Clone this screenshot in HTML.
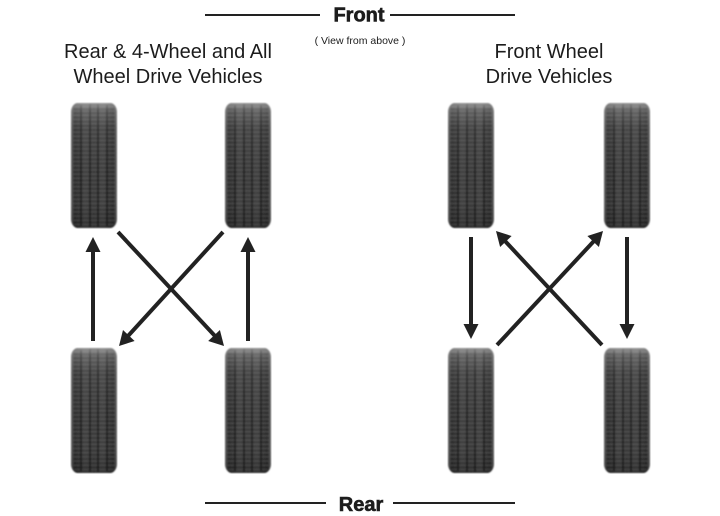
<!DOCTYPE html>
<html>
<head>
<meta charset="utf-8">
<style>
  html,body{margin:0;padding:0;background:#fff;}
  svg{display:block;}
  text{font-family:"Liberation Sans", Arial, sans-serif;fill:#1c1c1c;}
</style>
</head>
<body>
<svg width="720" height="516" viewBox="0 0 720 516" xmlns="http://www.w3.org/2000/svg">
  <defs>
    <filter id="soft" x="-10%" y="-5%" width="120%" height="110%">
      <feGaussianBlur stdDeviation="0.7"/>
    </filter>
    <linearGradient id="hg" x1="0" y1="0" x2="1" y2="0">
      <stop offset="0" stop-color="#6a6a6a"/>
      <stop offset="0.07" stop-color="#2a2a2a"/>
      <stop offset="0.3" stop-color="#404040"/>
      <stop offset="0.5" stop-color="#3a3a3a"/>
      <stop offset="0.7" stop-color="#404040"/>
      <stop offset="0.93" stop-color="#2a2a2a"/>
      <stop offset="1" stop-color="#6a6a6a"/>
    </linearGradient>
    <linearGradient id="vg" x1="0" y1="0" x2="0" y2="1">
      <stop offset="0" stop-color="#fff" stop-opacity="0.45"/>
      <stop offset="0.06" stop-color="#fff" stop-opacity="0.2"/>
      <stop offset="0.2" stop-color="#fff" stop-opacity="0.06"/>
      <stop offset="0.8" stop-color="#000" stop-opacity="0"/>
      <stop offset="1" stop-color="#000" stop-opacity="0.2"/>
    </linearGradient>
    <pattern id="sipe" x="0" y="0" width="48" height="4.2" patternUnits="userSpaceOnUse">
      <rect x="0" y="0" width="48" height="1.4" fill="#777" opacity="0.35"/>
    </pattern>
    <symbol id="tire" viewBox="0 0 48 127">
      <g filter="url(#soft)">
        <rect x="1" y="1" width="46" height="125" rx="7" ry="9" fill="url(#hg)"/>
        <rect x="3" y="2" width="42" height="123" rx="5" fill="url(#sipe)"/>
        <g stroke="#161616" stroke-width="1.6" opacity="0.8">
          <line x1="11" y1="3" x2="11" y2="124"/>
          <line x1="20" y1="2" x2="20" y2="125"/>
          <line x1="28" y1="2" x2="28" y2="125"/>
          <line x1="37" y1="3" x2="37" y2="124"/>
        </g>
        <rect x="1" y="1" width="46" height="125" rx="7" ry="9" fill="url(#vg)"/>
      </g>
    </symbol>
  </defs>

  <!-- Front header -->
  <line x1="205" y1="15" x2="320" y2="15" stroke="#222" stroke-width="2"/>
  <line x1="390" y1="15" x2="515" y2="15" stroke="#222" stroke-width="2"/>
  <text x="359" y="21.5" font-size="20" font-weight="bold" text-anchor="middle" stroke="#1c1c1c" stroke-width="0.6">Front</text>
  <text x="360" y="44" font-size="10.5" text-anchor="middle" fill="#333">( View from above )</text>

  <!-- Headings -->
  <text x="168" y="58" font-size="20" text-anchor="middle">Rear &amp; 4-Wheel and All</text>
  <text x="168" y="83" font-size="20" text-anchor="middle">Wheel Drive Vehicles</text>
  <text x="549" y="58" font-size="20" text-anchor="middle">Front Wheel</text>
  <text x="549" y="83" font-size="20" text-anchor="middle">Drive Vehicles</text>

  <!-- Tires left group -->
  <use href="#tire" x="70" y="102" width="48" height="127"/>
  <use href="#tire" x="224" y="102" width="48" height="127"/>
  <use href="#tire" x="70" y="347" width="48" height="127"/>
  <use href="#tire" x="224" y="347" width="48" height="127"/>
  <!-- Tires right group -->
  <use href="#tire" x="447" y="102" width="48" height="127"/>
  <use href="#tire" x="603" y="102" width="48" height="127"/>
  <use href="#tire" x="447" y="347" width="48" height="127"/>
  <use href="#tire" x="603" y="347" width="48" height="127"/>

  <!-- Arrows left group -->
  <g stroke="#222" stroke-width="4" fill="none">
    <line x1="93" y1="341" x2="93" y2="250"/>
    <line x1="248" y1="341" x2="248" y2="250"/>
    <line x1="118" y1="232" x2="215" y2="336"/>
    <line x1="223" y1="232" x2="128" y2="336"/>
  </g>
  <g fill="#222">
    <polygon points="93,237 85.5,252 100.5,252"/>
    <polygon points="248,237 240.5,252 255.5,252"/>
    <polygon points="224,346 208.2,341 219.9,330"/>
    <polygon points="119,346 123,330 134.6,341"/>
  </g>

  <!-- Arrows right group -->
  <g stroke="#222" stroke-width="4" fill="none">
    <line x1="471" y1="237" x2="471" y2="326"/>
    <line x1="627" y1="237" x2="627" y2="326"/>
    <line x1="497" y1="345" x2="594" y2="241"/>
    <line x1="602" y1="345" x2="505" y2="241"/>
  </g>
  <g fill="#222">
    <polygon points="471,339 463.5,324 478.5,324"/>
    <polygon points="627,339 619.5,324 634.5,324"/>
    <polygon points="603,231 598.9,247 587.4,236"/>
    <polygon points="496,231 500.1,247 511.6,236"/>
  </g>

  <!-- Rear footer -->
  <line x1="205" y1="503" x2="326" y2="503" stroke="#222" stroke-width="2"/>
  <line x1="393" y1="503" x2="515" y2="503" stroke="#222" stroke-width="2"/>
  <text x="361" y="511" font-size="20" font-weight="bold" text-anchor="middle" stroke="#1c1c1c" stroke-width="0.6">Rear</text>
</svg>
</body>
</html>
